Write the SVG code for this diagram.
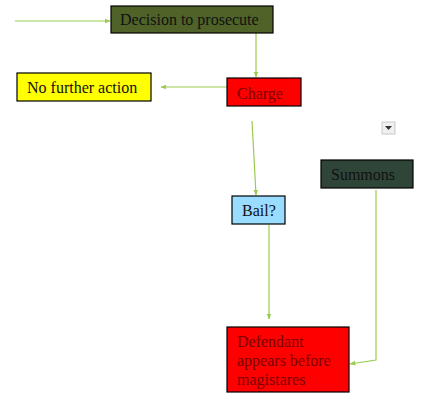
<svg xmlns="http://www.w3.org/2000/svg" width="430" height="400" viewBox="0 0 430 400">
<style>
.box{stroke:#000;stroke-width:1.2}
.t{font-family:"Liberation Serif",serif;font-size:16px}
.c{fill:none;stroke:#9bcb4f;stroke-width:1.2}
</style>
<defs>
<marker id="ah" viewBox="0 0 10 10" refX="9" refY="5" markerWidth="5" markerHeight="5" orient="auto">
<path d="M0,1 L10,5 L0,9 z" fill="#9bcb4f"/>
</marker>
</defs>
<rect width="430" height="400" fill="#fff"/>
<g id="connectors">
<line class="c" x1="15" y1="21" x2="110" y2="21" marker-end="url(#ah)"/>
<line class="c" x1="256" y1="29" x2="256" y2="77" marker-end="url(#ah)"/>
<line class="c" x1="227" y1="87" x2="161" y2="87" marker-end="url(#ah)"/>
<line class="c" x1="252" y1="121" x2="256" y2="195" marker-end="url(#ah)"/>
<line class="c" x1="269" y1="225" x2="269" y2="319" marker-end="url(#ah)"/>
<polyline class="c" points="376,190 376,360 350,364" marker-end="url(#ah)"/>
</g>
<g id="decision">
<rect class="box" x="111" y="6" width="162" height="27" fill="#4f6228"/>
<text class="t" x="120" y="25" fill="#111">Decision to prosecute</text>
</g>
<g id="nfa">
<rect class="box" x="17" y="73" width="134" height="28" fill="#ffff00"/>
<text class="t" x="27" y="93" fill="#111">No further action</text>
</g>
<g id="charge">
<rect class="box" x="227" y="78" width="74" height="28" fill="#ff0000"/>
<text class="t" x="237" y="99" fill="#7a0000">Charge</text>
</g>
<g id="bail">
<rect class="box" x="232" y="196" width="53" height="28" fill="#99dcff"/>
<text class="t" x="242" y="216" fill="#111">Bail?</text>
</g>
<g id="summons">
<rect class="box" x="321" y="160" width="92" height="28" fill="#2f4538"/>
<text class="t" x="331" y="180" fill="#111">Summons</text>
</g>
<g id="defendant">
<rect class="box" x="227" y="327" width="122" height="65" fill="#ff0000"/>
<text class="t" fill="#7a0000"><tspan x="237" y="347">Defendant</tspan><tspan x="237" y="366">appears before</tspan><tspan x="237" y="385">magistares</tspan></text>
</g>
<g id="dropdown">
<rect x="382" y="122" width="13" height="12" fill="#f0f0f0" stroke="#c8c8c8" stroke-width="1"/>
<path d="M385,126 L392,126 L388.5,130 z" fill="#333"/>
</g>
</svg>
